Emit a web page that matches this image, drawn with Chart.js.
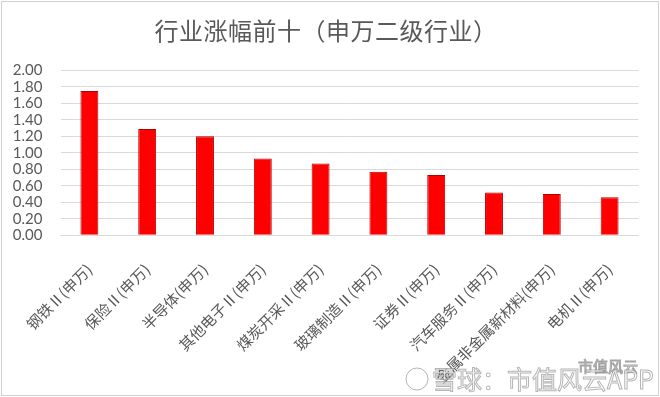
<!DOCTYPE html>
<html>
<head>
<meta charset="utf-8">
<script src="https://cdn.jsdelivr.net/npm/chart.js@4.4.1/dist/chart.umd.min.js"></script>
<style>
  html, body { margin: 0; padding: 0; background: #fff; }
  #wrap { width: 660px; height: 397px; }
</style>
</head>
<body>
<div id="wrap"><canvas id="rise" width="660" height="397"></canvas></div>
<script>
// 申万二级行业 涨幅前十
const categories = ["钢铁Ⅱ(申万)", "保险Ⅱ(申万)", "半导体(申万)", "其他电子Ⅱ(申万)", "煤炭开采Ⅱ(申万)",
  "玻璃制造Ⅱ(申万)", "证券Ⅱ(申万)", "汽车服务Ⅱ(申万)", "金属非金属新材料(申万)", "电机Ⅱ(申万)"];
const values = [1.75, 1.29, 1.20, 0.93, 0.87, 0.77, 0.73, 0.52, 0.50, 0.46];
const titleText = "行业涨幅前十（申万二级行业）";
const yMin = 0, yMax = 2, yStep = 0.2;

const grey = '#595959';

// 标题(带字距)、外框、水印
const decor = {
  id: 'decor',
  afterDraw(chart) {
    const c = chart.ctx;
    c.save();
    c.fillStyle = grey;
    c.font = '24px "Noto Sans CJK SC"';
    c.textAlign = 'center';
    c.textBaseline = 'middle';
    c.letterSpacing = '0.5px';
    c.fillText(titleText, 326, 31);
    c.letterSpacing = '0px';

    c.strokeStyle = '#d0d0d0';
    c.lineWidth = 1;
    c.strokeRect(1.5, 1.5, 657, 394);

    c.textAlign = 'left';
    c.font = '15px "Noto Sans CJK SC"';
    c.strokeStyle = 'rgba(90,90,90,0.55)';
    c.fillStyle = 'rgba(255,255,255,0.7)';
    c.fillText('市值风云', 578, 366);
    c.strokeText('市值风云', 578, 366);

    c.font = '25px "Noto Sans CJK SC"';
    c.strokeStyle = 'rgba(120,120,120,0.55)';
    c.fillText('雪球：市值风云APP', 432, 379);
    c.strokeText('雪球：市值风云APP', 432, 379);
    c.beginPath();
    c.arc(417, 379, 11, 0, Math.PI * 2);
    c.stroke();
    c.restore();
  }
};

let ctx = document.getElementById("rise").getContext("2d");

let barChart = new Chart(ctx, {
  type: 'bar',
  data: {
    labels: categories,
    datasets: [{
      data: values,
      backgroundColor: '#ff0000',
      borderColor: '#b00000',
      borderWidth: 1,
      categoryPercentage: 1,
      barPercentage: 0.31
    }]
  },
  options: {
    responsive: false,
    animation: false,
    layout: { padding: { left: 8, right: 21.5, top: 70.3, bottom: 0 } },
    plugins: {
      legend: { display: false },
      tooltip: { enabled: false },
      title: { display: false }
    },
    scales: {
      x: {
        grid: { display: false, drawTicks: false },
        border: { display: true, color: '#d9d9d9', width: 1 },
        ticks: {
          autoSkip: false,
          minRotation: 45,
          maxRotation: 45,
          padding: 25,
          color: grey,
          font: { family: '"Noto Sans CJK SC"', size: 15 }
        },
        afterFit(scale) { scale.height = 161.7; }
      },
      y: {
        min: yMin,
        max: yMax,
        grid: { color: '#d9d9d9', drawTicks: false },
        border: { display: false },
        ticks: {
          autoSkip: false,
          stepSize: yStep,
          padding: 18,
          color: grey,
          font: { family: 'Lato', size: 15 },
          callback: v => Number(v).toFixed(2)
        },
        afterFit(scale) { scale.width = 52.5; }
      }
    }
  },
  plugins: [decor]
});
</script>
</body>
</html>
